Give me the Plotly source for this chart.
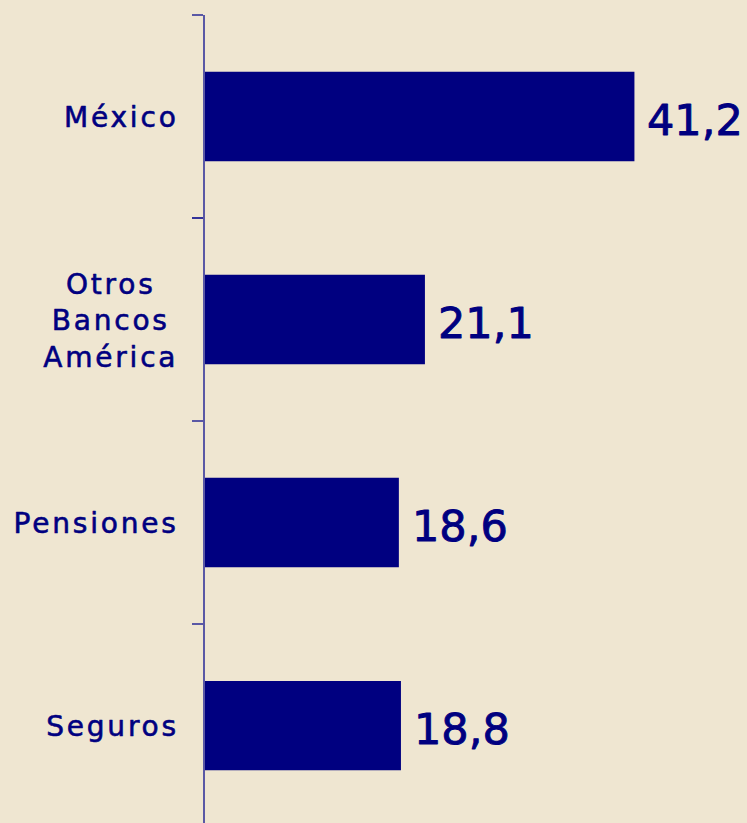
import plotly.graph_objects as go

# Participación por negocio (%)
categorias = ["México", "Otros<br>Bancos<br>América", "Pensiones", "Seguros"]
valores = [41.2, 21.1, 18.6, 18.8]
etiquetas_valor = [f"{v:.1f}".replace(".", ",") for v in valores]

AZUL = "#000080"
FONDO = "#EFE6D1"
EJE = "rgba(40,40,150,0.75)"
FUENTE = "DejaVu Sans"

fig = go.Figure(
    go.Bar(
        x=valores,
        y=categorias,
        orientation="h",
        width=0.44,
        marker=dict(color=AZUL, line=dict(width=0)),
        hoverinfo="skip",
    )
)

# Etiquetas de categoría (centradas por línea, alineadas a la derecha del eje)
for cat in categorias:
    fig.add_annotation(
        x=0, xref="paper", y=cat, yref="y",
        text=cat, showarrow=False,
        xanchor="right", yanchor="middle", align="center",
        xshift=-27, yshift=-1,
        font=dict(family=FUENTE, size=28, color=AZUL),
    )

# Valores al final de cada barra
for cat, v, txt in zip(categorias, valores, etiquetas_valor):
    fig.add_annotation(
        x=v, xref="x", y=cat, yref="y",
        text=txt, showarrow=False,
        xanchor="left", yanchor="middle",
        xshift=11, yshift=-3,
        font=dict(family=FUENTE, size=43, color=AZUL),
    )

fig.update_layout(
    width=747,
    height=823,
    margin=dict(l=205, r=0, t=15, b=0),
    paper_bgcolor=FONDO,
    plot_bgcolor=FONDO,
    showlegend=False,
)
fig.update_xaxes(visible=False, range=[0, 52], fixedrange=True)
fig.update_yaxes(
    type="category",
    range=[3.48, -0.5],
    showticklabels=False,
    showgrid=False,
    zeroline=False,
    showline=True,
    linecolor=EJE,
    linewidth=2,
    ticks="outside",
    tickson="boundaries",
    ticklen=11,
    tickwidth=2,
    tickcolor=EJE,
    fixedrange=True,
)

# Trazo más grueso en los textos y espaciado entre letras en las categorías,
# conservando el borde derecho de cada etiqueta
ajustes = """
document.querySelectorAll('g.annotation').forEach(function(g){
  var i = parseInt(g.getAttribute('data-index'));
  var t = g.querySelector('text.annotation-text');
  if (!t) return;
  t.style.stroke = '#000080';
  t.style.strokeWidth = (i >= 4) ? '0.9px' : '0.6px';
  t.style.strokeLinejoin = 'round';
  if (i >= 4) return;
  var a = t.getBBox();
  t.style.letterSpacing = '2.8px';
  var b = t.getBBox();
  var dx = (a.x + a.width) - (b.x + b.width) + 2.8;
  t.setAttribute('transform', 'translate(' + dx + ',0)');
});
"""

fig.write_html("out.html", config={"displayModeBar": False}, post_script=ajustes)
